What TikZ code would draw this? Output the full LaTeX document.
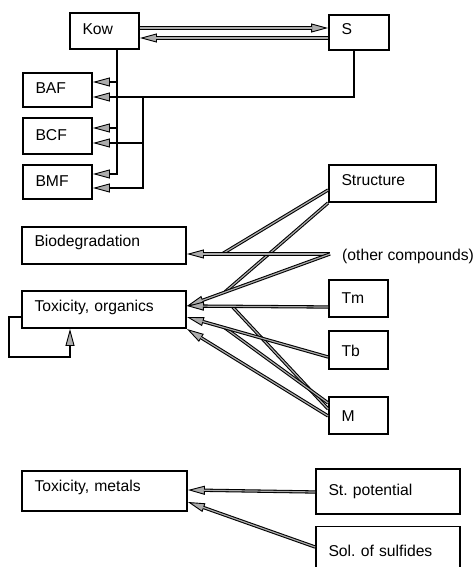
\documentclass[tikz,border=0pt]{standalone}
\usepackage{fontspec}
\setmainfont{Liberation Sans}
\usetikzlibrary{arrows.meta}
\frenchspacing
\begin{document}
\begin{tikzpicture}[x=1pt,y=-1pt,
  gtip/.tip={Triangle[length=17pt,width=9pt,fill=gray!65,line width=0.9pt]},
  bx/.style n args={4}{draw=black, line width=1.8pt, fill=white, inner xsep=12.5pt, inner ysep=0pt,
    align=left, minimum width=#1pt, text width=#2pt, minimum height=#3pt,
    text height=18pt, text depth=#4pt, font=\fontsize{15.7}{18}\selectfont},
  conn/.style={draw=black, line width=3.3pt, -{gtip},
    postaction={draw=gray!65, line width=1.2pt, arrows=-, shorten >=16pt}},
  cl/.style={draw=black, line width=3.3pt, postaction={draw=gray!65, line width=1.2pt}},
  ta/.style={draw=black, line width=2.6pt, -{gtip}},
  loopst/.style={draw=black, line width=2pt, -{gtip}},
  lbl/.style={inner sep=0pt, font=\fontsize{15.7}{18}\selectfont}
]
\useasboundingbox (0,0) rectangle (474,567);

% boxes
\node[bx={69}{44}{36}{11.4}] (kow) at (104.5,31) {Kow};
\node[bx={60}{35}{35}{13}] (s) at (359,32.5) {S};
\node[bx={69}{44}{34}{11.4}] (baf) at (57.5,90) {BAF};
\node[bx={69}{44}{36}{10}] (bcf) at (57.5,136) {BCF};
\node[bx={69}{44}{34}{8.6}] (bmf) at (57.5,182) {BMF};
\node[bx={164}{139}{37}{15.6}] (bio) at (104,245.5) {Biodegradation};
\node[bx={164}{139}{37}{15}] (toxo) at (104,309.5) {Toxicity, organics};
\node[bx={107}{82}{37}{13.6}] (struc) at (382.5,183.5) {Structure};
\node[bx={59}{34}{37}{8.4}] (tm) at (358.5,298.5) {Tm};
\node[bx={59}{34}{38}{4.6}] (tb) at (358.5,350) {Tb};
\node[bx={59}{34}{37}{6}] (mm) at (358.5,415.5) {M};
\node[bx={165}{140}{40}{18}] (toxm) at (104.5,491) {Toxicity, metals};
\node[bx={144}{119}{45}{11}] (stp) at (388,491.5) {St. potential};
\node[bx={144}{119}{41}{0}] (sol) at (388,547) {Sol. of sulfides};
\node[lbl, anchor=base west] (oc) at (342,260.5) {(other compounds)};

% Kow <-> S
\draw[conn] (kow.east |- 0,28) -- (s.west |- 0,28);
\draw[conn] (s.west |- 0,38) -- (kow.east |- 0,38);

% tree from Kow
\coordinate (k1) at (117,82);
\coordinate (k2) at (117,128);
\coordinate (k3) at (117,174);
\draw[ta] (kow.south -| k1) -- (k3) -- (bmf.east |- k3);
\draw[ta] (k1) -- (baf.east |- k1);
\draw[ta] (k2) -- (bcf.east |- k2);

% tree from S
\coordinate (s1) at (354,97);
\coordinate (sj) at (143,97);
\coordinate (s2) at (143,143);
\coordinate (s3) at (143,188);
\draw[ta] (s.south -| s1) -- (s1) -- (baf.east |- s1);
\draw[ta] (sj) -- (s3) -- (bmf.east |- s3);
\draw[ta] (s2) -- (bcf.east |- s2);

% fan to biodegradation / toxicity organics
\coordinate (ocp) at (330,254);
\coordinate (p1) at (222,254);
\coordinate (p2) at (225,291.9);
\coordinate (p3) at (232,306.3);
\coordinate (p4) at (225,327.9);
\draw[cl] (struc.west |- 0,190) -- (p1);
\draw[cl] (struc.south west) -- (p2);
\draw[cl] (mm.west |- 0,409) -- (p3);
\draw[cl] (mm.west |- 0,403) -- (p4);
\draw[conn] (ocp) -- (bio.east |- ocp);
\draw[conn] (ocp) -- (toxo.east |- 0,306);
\draw[conn] (tm.west |- 0,307) -- (toxo.east |- 0,306);
\draw[conn] (tb.west |- 0,357) -- (toxo.east |- 0,317);
\draw[conn] (mm.west |- 0,416) -- (toxo.east |- 0,329);

% self loop
\coordinate (lp) at (9,357);
\coordinate (lx) at (70,0);
\draw[loopst] (toxo.west |- 0,317) -| (lp) -| (toxo.south -| lx);

% metals
\draw[conn] (stp.west |- 0,492) -- (toxm.east |- 0,490);
\draw[conn] (sol.west |- 0,547) -- (toxm.east |- 0,502);
\end{tikzpicture}
\end{document}
